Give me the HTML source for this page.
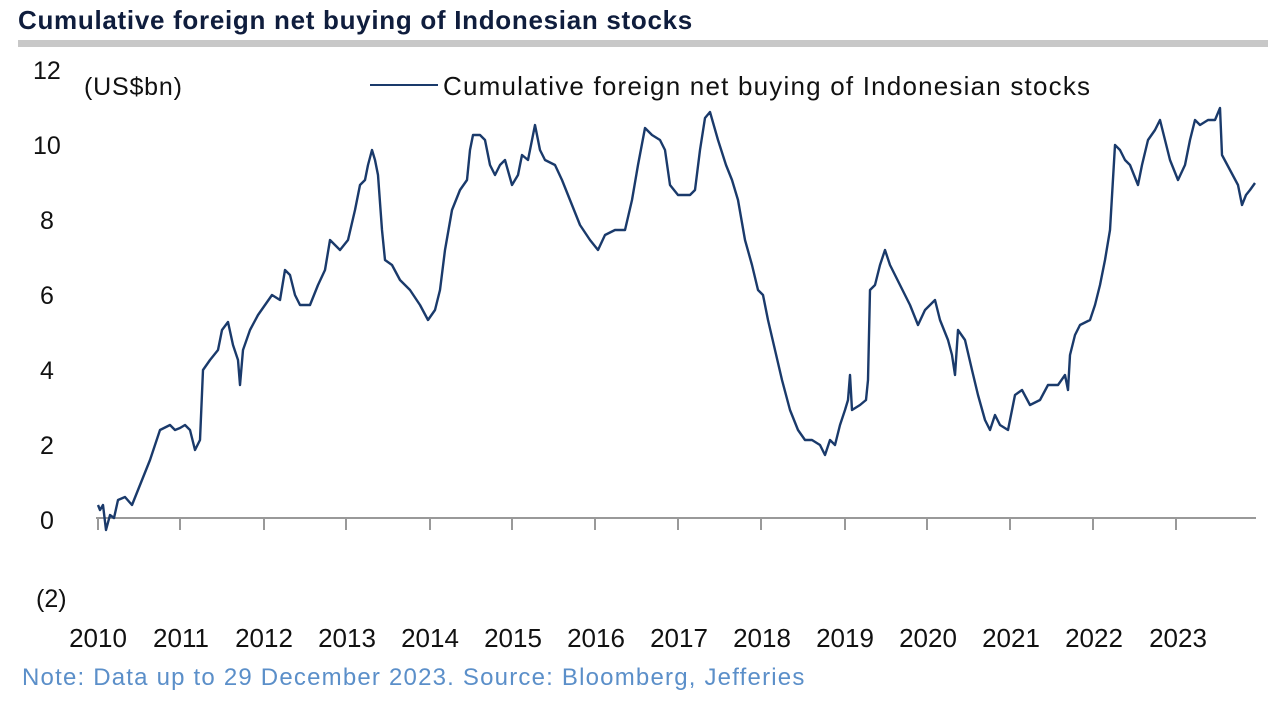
<!DOCTYPE html>
<html><head><meta charset="utf-8"><style>
body{margin:0;background:#fff;width:1280px;height:697px;overflow:hidden;font-family:"Liberation Sans",sans-serif}
</style></head><body>
<svg width="1280" height="697" xmlns="http://www.w3.org/2000/svg" font-family="Liberation Sans, sans-serif">
<text x="18" y="29" font-size="26" font-weight="bold" fill="#0f1d3d" letter-spacing="0.7">Cumulative foreign net buying of Indonesian stocks</text>
<rect x="18" y="40" width="1250" height="7" fill="#c8c8c8"/>
<g font-size="25" fill="#111">
<text x="33" y="79">12</text>
<text x="33" y="154">10</text>
<text x="40" y="229">8</text>
<text x="40" y="304">6</text>
<text x="40" y="379">4</text>
<text x="40" y="454">2</text>
<text x="40" y="529">0</text>
<text x="36" y="607">(2)</text>
<text x="84" y="95" letter-spacing="0.8">(US$bn)</text>
</g>
<line x1="370" y1="85" x2="438" y2="85" stroke="#1a3a6b" stroke-width="2"/>
<text x="443" y="95" font-size="26" fill="#111" letter-spacing="1.2">Cumulative foreign net buying of Indonesian stocks</text>
<line x1="96" y1="518" x2="1256" y2="518" stroke="#999" stroke-width="2"/>
<g stroke="#999" stroke-width="2">
<line x1="98" y1="518" x2="98" y2="530"/><line x1="180" y1="518" x2="180" y2="530"/><line x1="264" y1="518" x2="264" y2="530"/><line x1="346" y1="518" x2="346" y2="530"/><line x1="430" y1="518" x2="430" y2="530"/><line x1="512" y1="518" x2="512" y2="530"/><line x1="595" y1="518" x2="595" y2="530"/><line x1="678" y1="518" x2="678" y2="530"/><line x1="761" y1="518" x2="761" y2="530"/><line x1="845" y1="518" x2="845" y2="530"/><line x1="927" y1="518" x2="927" y2="530"/><line x1="1010" y1="518" x2="1010" y2="530"/><line x1="1093" y1="518" x2="1093" y2="530"/><line x1="1176" y1="518" x2="1176" y2="530"/>
</g>
<g font-size="26" fill="#111" text-anchor="middle">
<text x="98" y="647">2010</text><text x="181" y="647">2011</text><text x="264" y="647">2012</text><text x="347" y="647">2013</text><text x="430" y="647">2014</text><text x="513" y="647">2015</text><text x="596" y="647">2016</text><text x="679" y="647">2017</text><text x="762" y="647">2018</text><text x="845" y="647">2019</text><text x="928" y="647">2020</text><text x="1011" y="647">2021</text><text x="1094" y="647">2022</text><text x="1178" y="647">2023</text>
</g>
<text x="22" y="685" font-size="24" fill="#5b8fc9" letter-spacing="1.2">Note: Data up to 29 December 2023. Source: Bloomberg, Jefferies</text>
<polyline fill="none" stroke="#1a3a6b" stroke-width="2.4" stroke-linejoin="round" points="98,505 100,510 103,505 106,530 110,515 114,518 118,500 125,497 132,505 140,485 150,460 160,430 170,425 175,430 180,428 185,425 190,430 195,450 200,440 203,370 210,360 218,350 222,330 228,322 233,345 238,360 240,385 243,350 250,330 258,315 265,305 272,295 280,300 285,270 290,275 295,295 300,305 310,305 318,285 325,270 330,240 340,250 348,240 355,210 360,185 365,180 368,165 372,150 375,160 378,175 382,230 385,260 392,265 400,280 410,290 420,305 428,320 435,310 440,290 445,250 452,210 460,190 467,180 470,150 473,135 480,135 485,140 490,165 495,175 500,165 505,160 512,185 518,175 522,155 528,160 535,125 540,150 545,160 555,165 562,180 570,200 580,225 590,240 598,250 605,235 615,230 625,230 632,200 638,165 645,128 652,135 660,140 665,150 670,185 678,195 690,195 695,190 700,150 705,118 710,112 718,140 726,165 732,180 738,200 745,240 752,265 758,290 763,295 768,320 775,350 782,380 790,410 798,430 805,440 812,440 820,445 825,455 830,440 835,445 840,425 845,410 848,400 850,375 852,410 860,405 866,400 868,380 870,290 875,285 880,265 885,250 890,265 900,285 910,305 918,325 925,310 930,305 935,300 940,320 948,340 952,355 955,375 958,330 965,340 972,370 978,395 985,420 990,430 995,415 1000,425 1008,430 1015,395 1022,390 1030,405 1040,400 1048,385 1058,385 1065,375 1068,390 1070,355 1075,335 1080,325 1090,320 1095,305 1100,285 1105,260 1110,230 1115,145 1120,150 1125,160 1130,165 1138,185 1142,165 1148,140 1155,130 1160,120 1165,140 1170,160 1178,180 1185,165 1190,140 1195,120 1200,125 1208,120 1215,120 1220,108 1222,155 1230,170 1238,185 1242,205 1246,195 1250,190 1255,183"/>
</svg>
</body></html>
